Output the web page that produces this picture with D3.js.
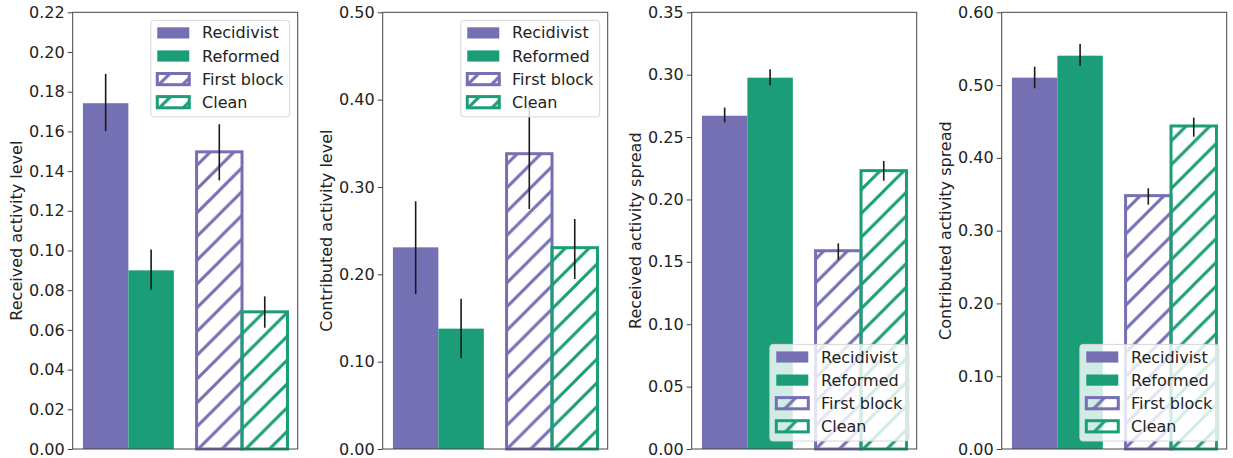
<!DOCTYPE html>
<html>
<head>
<meta charset="utf-8">
<script src="https://cdn.jsdelivr.net/npm/d3@7/dist/d3.min.js"></script>
<style>
  html, body { margin: 0; padding: 0; background: #fff; }
  svg { display: block; font-family: "DejaVu Sans", sans-serif; }
</style>
</head>
<body>
<svg id="chart" width="1233" height="458"></svg>
<script>
// ---------- data ----------
const categories = ["Recidivist", "Reformed", "First block", "Clean"];
const yLabels = ["Received activity level", "Contributed activity level",
                 "Received activity spread", "Contributed activity spread"];

const receivedLevel    = [0.1742, 0.0900, 0.1497, 0.0691];
const receivedLevelLo  = [0.1601, 0.0802, 0.1353, 0.0611];
const receivedLevelHi  = [0.1890, 0.1005, 0.1636, 0.0769];

const contributedLevel   = [0.2309, 0.1378, 0.3381, 0.2305];
const contributedLevelLo = [0.1775, 0.1038, 0.2748, 0.1946];
const contributedLevelHi = [0.2836, 0.1721, 0.3920, 0.2633];

const receivedSpread   = [0.2671, 0.2976, 0.1589, 0.2231];
const receivedSpreadLo = [0.2618, 0.2915, 0.1517, 0.2150];
const receivedSpreadHi = [0.2736, 0.3043, 0.1648, 0.2308];

const contributedSpread   = [0.5102, 0.5404, 0.3481, 0.4438];
const contributedSpreadLo = [0.4956, 0.5262, 0.3357, 0.4291];
const contributedSpreadHi = [0.5253, 0.5565, 0.3582, 0.4552];

const yMaxes    = [0.22, 0.50, 0.35, 0.60];
const tickSteps = [0.02, 0.10, 0.05, 0.10];
const legendLocs = ["upper right", "upper right", "lower right", "lower right"];

// ---------- styles ----------
const colors  = ["#7570b3", "#1b9e77", "#7570b3", "#1b9e77"];
const hatched = [false, false, true, true];

const panels = [
  {mean: receivedLevel, lo: receivedLevelLo, hi: receivedLevelHi},
  {mean: contributedLevel, lo: contributedLevelLo, hi: contributedLevelHi},
  {mean: receivedSpread, lo: receivedSpreadLo, hi: receivedSpreadHi},
  {mean: contributedSpread, lo: contributedSpreadLo, hi: contributedSpreadHi},
];

const svg = d3.select("#chart");
const defs = svg.append("defs");
const hs = 23.75;
["#7570b3", "#1b9e77"].forEach((c, k) => {
  const p = defs.append("pattern")
    .attr("id", "hatch" + k)
    .attr("patternUnits", "userSpaceOnUse")
    .attr("x", 6).attr("y", 0)
    .attr("width", hs).attr("height", hs);
  p.append("path")
    .attr("d", `M${-hs/2},${hs/2} L${hs/2},${-hs/2} M0,${hs} L${hs},0 M${hs/2},${1.5*hs} L${1.5*hs},${hs/2}`)
    .attr("stroke", c).attr("stroke-width", 3).attr("fill", "none");
});
const hatchId = c => c === "#7570b3" ? "url(#hatch0)" : "url(#hatch1)";

const axLefts = [72.7, 382.7, 691.7, 1001.7];
const axW = 225, axTop = 12.3, axBottom = 449;
const fontSize = 16;

panels.forEach((pd, pi) => {
  const g = svg.append("g");
  const x0 = axLefts[pi];
  const x = d3.scaleLinear().domain([-0.49, 1.49]).range([x0, x0 + axW]);
  const y = d3.scaleLinear().domain([0, yMaxes[pi]]).range([axBottom, axTop]);
  const barW = 0.4;
  const center = i => Math.floor(i / 2) + (i % 2 - 0.5) * barW;

  // bars
  categories.forEach((cat, i) => {
    const bx = x(center(i) - barW / 2), bw = x(center(i) + barW / 2) - bx;
    const by = y(pd.mean[i]), bh = y(0) - y(pd.mean[i]);
    if (!hatched[i]) {
      g.append("rect").attr("x", bx).attr("y", by).attr("width", bw).attr("height", bh)
        .attr("fill", colors[i]);
    } else {
      g.append("rect").attr("x", bx).attr("y", by).attr("width", bw).attr("height", bh)
        .attr("fill", hatchId(colors[i]));
      g.append("rect").attr("x", bx).attr("y", by).attr("width", bw).attr("height", bh)
        .attr("fill", "none").attr("stroke", colors[i]).attr("stroke-width", 3);
    }
  });
  // error bars
  categories.forEach((cat, i) => {
    g.append("line")
      .attr("x1", x(center(i))).attr("x2", x(center(i)))
      .attr("y1", y(pd.lo[i])).attr("y2", y(pd.hi[i]))
      .attr("stroke", "#1a1a1a").attr("stroke-width", 1.6);
  });

  // axes frame
  g.append("rect").attr("x", x0).attr("y", axTop).attr("width", axW).attr("height", axBottom - axTop)
    .attr("fill", "none").attr("stroke", "#444").attr("stroke-width", 1);

  // y axis
  const ticks = d3.range(0, yMaxes[pi] + tickSteps[pi] / 2, tickSteps[pi]);
  const yAxis = d3.axisLeft(y).tickValues(ticks).tickFormat(d3.format(".2f"))
    .tickSize(5).tickPadding(3);
  const ya = g.append("g").attr("transform", `translate(${x0},0)`).call(yAxis);
  ya.select(".domain").remove();
  ya.selectAll(".tick line").attr("stroke", "#444");
  ya.selectAll(".tick text").attr("font-size", fontSize).attr("fill", "#222")
    .attr("font-family", "DejaVu Sans");

  // y label
  const ylx = x0 - 56;
  g.append("text")
    .attr("transform", `translate(${ylx},${(axTop + axBottom) / 2}) rotate(-90)`)
    .attr("text-anchor", "middle").attr("dominant-baseline", "central")
    .attr("font-size", fontSize).attr("fill", "#222")
    .text(yLabels[pi]);

  // legend
  const em = fontSize;
  const lg = g.append("g");
  const frame = lg.append("rect");
  const texts = [];
  const rowPitch = 23.1;
  categories.forEach((cat, i) => {
    const t = lg.append("text").attr("font-size", em).attr("fill", "#222")
      .attr("dominant-baseline", "central").text(cat);
    texts.push(t);
  });
  const maxTW = d3.max(texts, t => t.node().getComputedTextLength());
  const lw = 0.4 * em + 2 * em + 0.8 * em + maxTW + 0.4 * em;
  const lh = 96.6;
  const pad = 0.5 * em;
  const lx = x0 + axW - pad - lw;
  const ly = legendLocs[pi] === "upper right" ? axTop + pad : axBottom - pad - lh;
  frame.attr("x", lx).attr("y", ly).attr("width", lw).attr("height", lh)
    .attr("rx", 3).attr("fill", "#fff").attr("fill-opacity", 0.8)
    .attr("stroke", "#d6d6d6").attr("stroke-width", 1);
  frame.lower();
  categories.forEach((cat, i) => {
    const cy = ly + 12.6 + i * rowPitch;
    const hx = lx + 0.4 * em, hw = 2 * em, hh = 0.7 * em;
    if (!hatched[i]) {
      lg.append("rect").attr("x", hx).attr("y", cy - hh / 2).attr("width", hw).attr("height", hh)
        .attr("fill", colors[i]);
    } else {
      lg.append("rect").attr("x", hx).attr("y", cy - hh / 2).attr("width", hw).attr("height", hh)
        .attr("fill", hatchId(colors[i]));
      lg.append("rect").attr("x", hx).attr("y", cy - hh / 2).attr("width", hw).attr("height", hh)
        .attr("fill", "none").attr("stroke", colors[i]).attr("stroke-width", 3);
    }
    texts[i].attr("x", hx + hw + 0.8 * em).attr("y", cy);
  });
});
</script>
</body>
</html>
